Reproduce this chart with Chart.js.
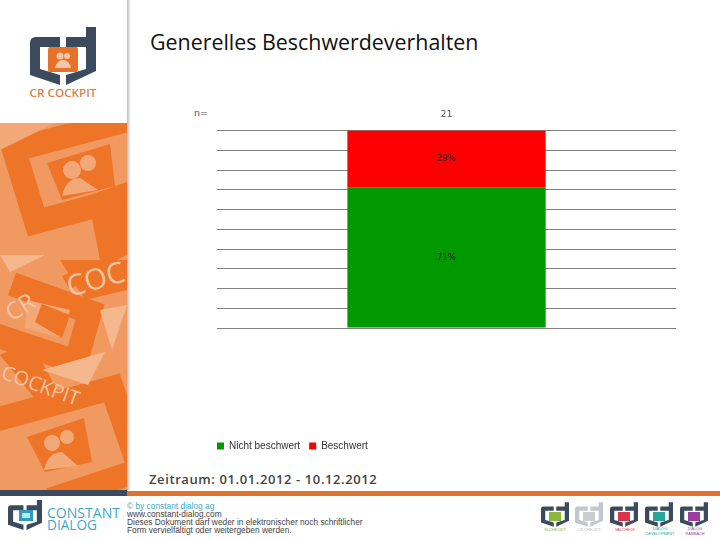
<!DOCTYPE html>
<html><head><meta charset="utf-8">
<script src="https://cdn.jsdelivr.net/npm/chart.js@4"></script>
<style>
html,body{margin:0;padding:0;background:#fff;overflow:hidden}
#stage{position:relative;width:720px;height:540px;overflow:hidden;font-family:"Open Sans",sans-serif}
#deco{position:absolute;left:0;top:0}
#wrap{position:absolute;left:208px;top:100px;width:479px;height:361px}
.t{position:absolute;white-space:nowrap}
#title{left:150px;top:27px;font-size:21.4px;color:#111;line-height:29px}
#n{left:194px;top:107px;font:9.5px "DejaVu Sans",sans-serif;color:#555}
#range{left:149px;top:470px;font-size:13px;font-weight:600;color:#444;letter-spacing:.6px}
.f{left:127px;font:8.35px "Liberation Sans",sans-serif;color:#444}
</style></head><body>
<div id="stage">
<svg id="deco" width="720" height="540" viewBox="0 0 720 540" xmlns="http://www.w3.org/2000/svg">
<defs>
<linearGradient id="sh" x1="0" x2="1" y1="0" y2="0"><stop offset="0" stop-color="#bbb"/><stop offset="1" stop-color="#fff"/></linearGradient>
<clipPath id="pc"><rect x="0" y="123" width="127" height="367"/></clipPath>
<symbol id="logo" viewBox="0 0 66 58">
<path d="M30 10H6Q0 10 0 16V48L30 58V48L10 42V20H30Z" fill="#3b4a5c"/>
<path d="M36 10H56V0H66V44L36 58V48L56 42V20H36Z" fill="#3b4a5c"/>
</symbol>
</defs>
<rect x="127" y="0" width="4" height="490" fill="url(#sh)"/>
<g clip-path="url(#pc)">
<rect x="0" y="123" width="127" height="367" fill="#f09a62"/>
<g fill="none" stroke="#ee7428" stroke-width="24" stroke-linejoin="miter">
<path d="M135 118L14 150L36 222L95 206L135 192"/>
<path d="M12 284L90 312L76 362L-20 330"/>
<path d="M-5 420L112 388L140 470L50 500"/>
</g>
<path d="M90 208L100 260L62 276L70 290L100 268L127 255V200Z" fill="#ee7428"/>
<path d="M30 340L60 395L40 405L0 355Z" fill="#ee7428"/>
<path d="M60 260H127V290L85 300Z" fill="#ee7428"/>
<path d="M47 163L110 144L115 186L62 200Z" fill="#ee7428"/>
<path d="M27 437L84 418L92 462L45 472Z" fill="#ee7428"/>
<path d="M27 300L70 310L62 338L25 328Z" fill="#f3a878"/>
<path d="M42 304L70 315L62 338L35 322Z" fill="#ee7428"/>
<g fill="#f3a878">
<circle cx="72" cy="170" r="9"/><circle cx="88" cy="163" r="8"/><path d="M62 196Q66 178 80 178L98 190Z"/>
<circle cx="52" cy="443" r="8"/><circle cx="67" cy="437" r="7"/><path d="M44 470Q48 452 62 452L78 466Z"/>
</g>
<path d="M0 123H55L0 150Z" fill="#f3a878"/>
<path d="M0 255H45L10 272Z" fill="#f5b78d"/>
<path d="M100 310L127 305L112 350Z" fill="#f5b78d"/>
<path d="M42 370L105 352L88 385Z" fill="#f5b78d"/>
<g font-family="Open Sans,sans-serif" font-weight="400" fill="#f5c4a2">
<text x="70" y="297" font-size="29" transform="rotate(-16 70 297)">COC</text>
<text x="12" y="322" font-size="24" transform="rotate(-32 12 322)">CR</text>
<text x="0" y="378" font-size="20" transform="rotate(20 0 378)">COCKPIT</text>
</g>
</g>
<use href="#logo" x="30" y="27" width="66" height="58"/>
<rect x="48" y="47" width="30" height="25" rx="2" fill="#e8712a"/>
<circle cx="60" cy="56" r="3.5" fill="#f6c7a6"/><circle cx="67" cy="56" r="3" fill="#f6c7a6"/><path d="M55 68Q57 60 63 60T71 68Z" fill="#f6c7a6"/>
<text x="29.5" y="97" font-family="Open Sans,sans-serif" font-size="10" font-weight="600" fill="#d9824a" textLength="67" lengthAdjust="spacingAndGlyphs">CR COCKPIT</text>
<rect x="0" y="490" width="127" height="6" fill="#3b4a5c"/>
<rect x="127" y="491" width="593" height="5" fill="#e0742c"/>
<use href="#logo" x="8" y="500" width="34" height="30"/>
<rect x="19" y="510" width="14" height="11" fill="#2f9db8"/><rect x="22" y="513" width="8" height="5" fill="#bfe6ef"/>
<text x="47" y="518" font-family="Open Sans,sans-serif" font-size="14" font-weight="400" fill="#3fa9c4" textLength="73" lengthAdjust="spacingAndGlyphs">CONSTANT</text>
<text x="47" y="530" font-family="Open Sans,sans-serif" font-size="14" font-weight="400" fill="#3fa9c4" textLength="50" lengthAdjust="spacingAndGlyphs">DIALOG</text>
<g font-family="Liberation Sans,sans-serif" font-size="3.8" text-anchor="middle">
<use href="#logo" x="541" y="502" width="28" height="25"/><rect x="549" y="512" width="12" height="9" fill="#8db63c"/><text x="555" y="531" fill="#8db63c">IN-CHECKIT</text>
<use href="#logo" x="575" y="502" width="28" height="25" opacity=".3"/><rect x="583" y="512" width="12" height="9" fill="#ccc"/><text x="589" y="531" fill="#bbb">CX-CHECKIT</text>
<use href="#logo" x="610" y="502" width="28" height="25"/><rect x="618" y="512" width="12" height="9" fill="#d8344a"/><text x="625" y="531" fill="#d8344a">VALCHECK</text>
<use href="#logo" x="645" y="502" width="28" height="25"/><rect x="653" y="512" width="12" height="9" fill="#27a59a"/><text x="660" y="530" fill="#27a59a">DIALOG</text><text x="660" y="535" fill="#27a59a">DEVELOPMENT</text>
<use href="#logo" x="680" y="502" width="28" height="25"/><rect x="688" y="512" width="12" height="9" fill="#9a3fa0"/><text x="695" y="530" fill="#9a3fa0">DIALOG</text><text x="695" y="535" fill="#9a3fa0">RAMBACH</text>
</g>
</svg>
<div class="t" id="title">Generelles Beschwerdeverhalten</div>
<div class="t" id="n">n=</div>
<div class="t" id="range">Zeitraum: 01.01.2012 - 10.12.2012</div>
<div class="t f" style="top:501px;color:#3fa9c4">© by constant dialog ag</div>
<div class="t f" style="top:509px">www.constant-dialog.com</div>
<div class="t f" style="top:517px">Dieses Dokument darf weder in elektronischer noch schriftlicher</div>
<div class="t f" style="top:525px">Form vervielfältigt oder weitergeben werden.</div>
<div id="wrap"><canvas id="c" width="479" height="361"></canvas></div>
</div>
<script>
const categories = ['21'];
const seriesNames = ['Nicht beschwert', 'Beschwert'];
const nichtBeschwert = [71];
const beschwert = [29];
const valueLabels = [['71%'], ['29%']];
const valueMax = 100;
const valueStep = 10;

const barLabels = {
  id: 'barLabels',
  afterDatasetsDraw(chart) {
    const g = chart.ctx;
    g.save();
    g.font = '8.5px "DejaVu Sans", sans-serif';
    g.fillStyle = '#222';
    g.textAlign = 'center';
    g.textBaseline = 'middle';
    chart.data.datasets.forEach((ds, i) => {
      chart.getDatasetMeta(i).data.forEach((bar, j) => {
        g.fillText(valueLabels[i][j], bar.x, (bar.y + bar.base) / 2);
      });
    });
    g.restore();
  }
};

new Chart(document.getElementById('c'), {
  type: 'bar',
  data: {
    labels: categories,
    datasets: [
      { label: seriesNames[0], data: nichtBeschwert, backgroundColor: '#009900' },
      { label: seriesNames[1], data: beschwert, backgroundColor: '#ff0000' }
    ]
  },
  options: {
    responsive: false,
    animation: false,
    devicePixelRatio: 1,
    barPercentage: 0.432,
    categoryPercentage: 1,
    layout: { padding: { left: 0, right: 11, top: 0, bottom: 0 } },
    plugins: {
      tooltip: { enabled: false },
      legend: {
        position: 'bottom',
        align: 'start',
        labels: { boxWidth: 7, boxHeight: 7, padding: 9, color: '#333',
                  font: { family: '"Liberation Sans", sans-serif', size: 10 } }
      }
    },
    scales: {
      x: {
        position: 'top', stacked: true,
        grid: { display: false }, border: { display: false },
        ticks: { color: '#555', padding: 2, font: { family: '"DejaVu Sans", sans-serif', size: 9.5 } },
        afterFit(s) { s.height = 30.5; }
      },
      y: {
        stacked: true, min: 0, max: valueMax,
        border: { display: false },
        grid: { color: '#808080', lineWidth: 1, drawTicks: false },
        ticks: { display: false, stepSize: valueStep },
        afterFit(s) { s.width = 9; }
      },
      spacer: {
        type: 'linear', position: 'bottom', axis: 'x',
        grid: { display: false }, border: { display: false },
        ticks: { display: false },
        afterFit(s) { s.height = 104; }
      }
    }
  },
  plugins: [barLabels]
});
</script>
</body></html>
